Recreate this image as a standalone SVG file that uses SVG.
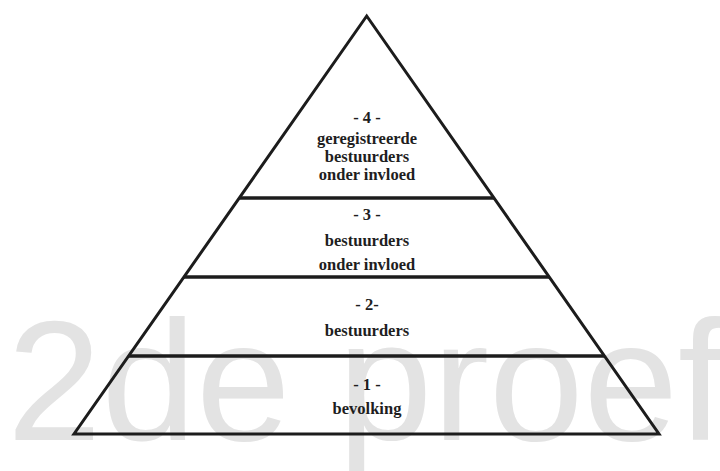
<svg xmlns="http://www.w3.org/2000/svg" width="720" height="471" viewBox="0 0 720 471">
  <style>
    .wm { font-family: "Liberation Sans", Arial, sans-serif; font-size: 170px; fill: #e3e3e3; }
    .ln { fill: none; stroke: #1c1c1c; stroke-width: 3; stroke-linejoin: miter; stroke-linecap: butt; }
    .hl { fill: none; stroke: #1c1c1c; stroke-width: 3.4; }
    .lb { font-family: "Liberation Serif", "Times New Roman", serif; font-weight: bold; font-size: 16.5px; fill: #1e1e1e; text-anchor: middle; }
  </style>
  <rect width="720" height="471" fill="#ffffff"/>
  <text class="wm" x="7" y="440">2de proef</text>
  <g id="connectors">
    <polygon class="ln" points="366.7,16 74,434 659,434"/>
    <line class="hl" x1="239.3" y1="198" x2="494" y2="198"/>
    <line class="hl" x1="183.9" y1="277" x2="549.2" y2="277"/>
    <line class="hl" x1="128.6" y1="356" x2="604.5" y2="356"/>
  </g>
  <g id="level4">
    <text class="lb" x="367" y="123">- 4 -</text>
    <text class="lb" x="367" y="144">geregistreerde</text>
    <text class="lb" x="367" y="162">bestuurders</text>
    <text class="lb" x="367" y="180">onder invloed</text>
  </g>
  <g id="level3">
    <text class="lb" x="367" y="220">- 3 -</text>
    <text class="lb" x="367" y="246">bestuurders</text>
    <text class="lb" x="367" y="270">onder invloed</text>
  </g>
  <g id="level2">
    <text class="lb" x="367" y="310">- 2-</text>
    <text class="lb" x="367" y="336">bestuurders</text>
  </g>
  <g id="level1">
    <text class="lb" x="367" y="390">- 1 -</text>
    <text class="lb" x="367" y="414">bevolking</text>
  </g>
</svg>
